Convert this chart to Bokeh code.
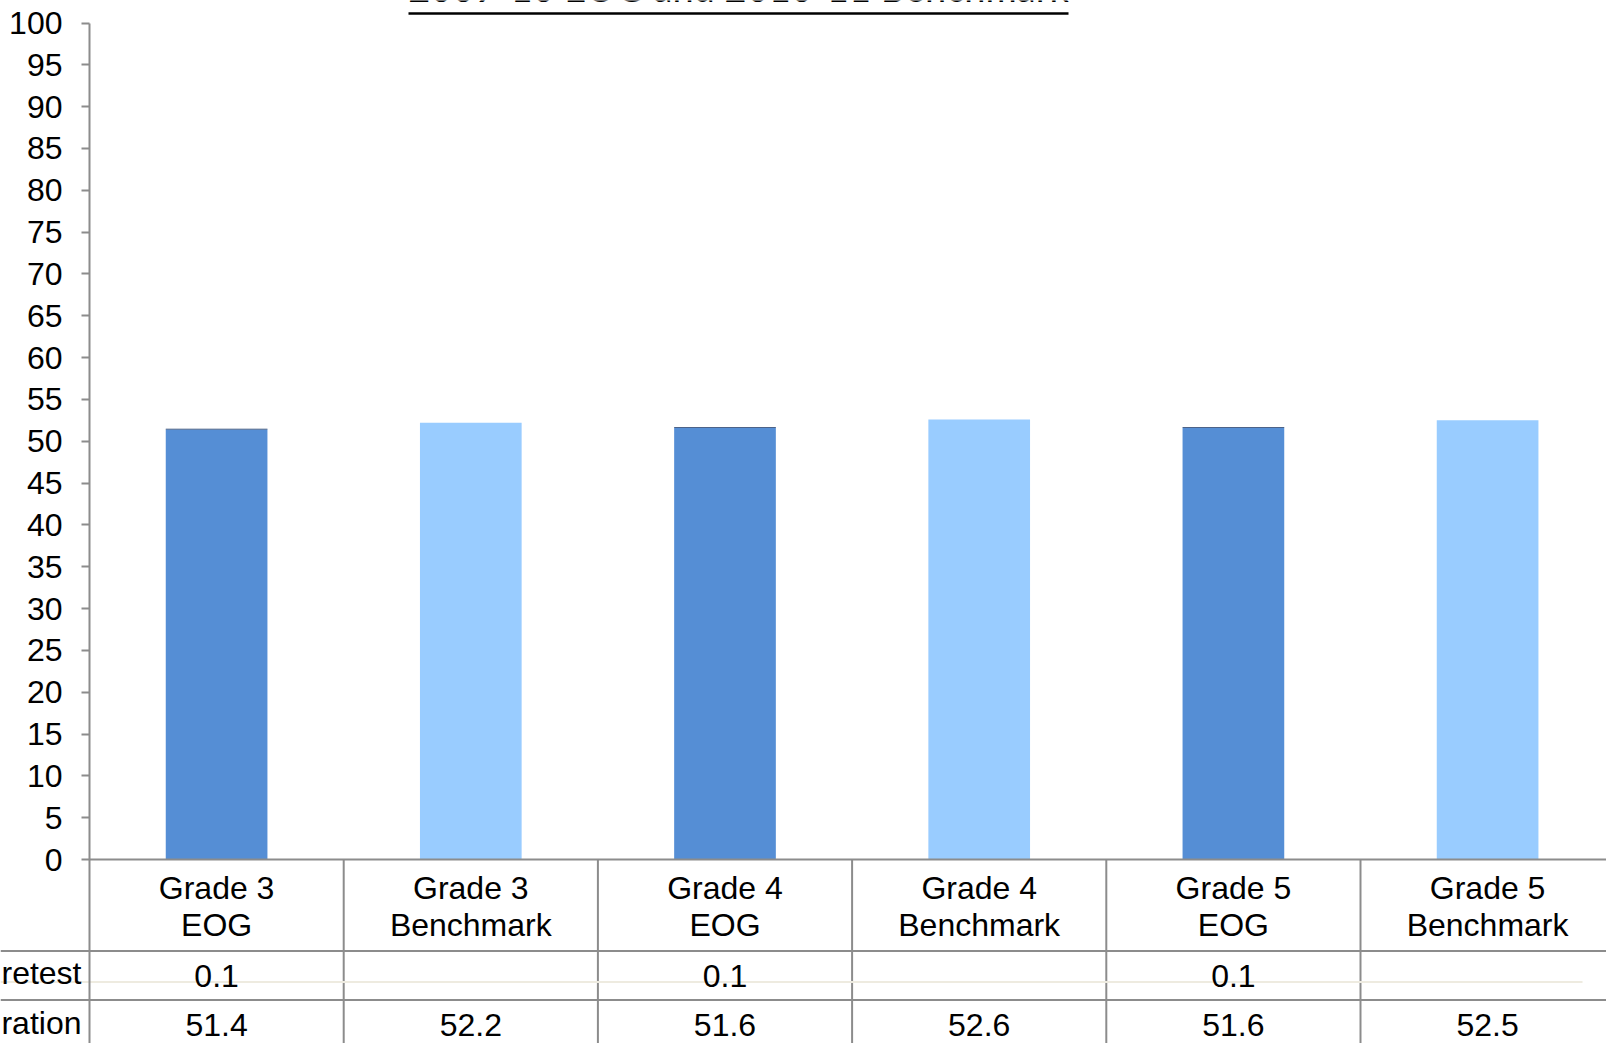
from bokeh.plotting import figure
from bokeh.models import Range1d, FixedTicker
from bokeh.core.properties import value
from bokeh.embed import file_html
from bokeh.resources import INLINE

# ---------------- data ----------------
categories = ["Grade 3\nEOG", "Grade 3\nBenchmark", "Grade 4\nEOG",
              "Grade 4\nBenchmark", "Grade 5\nEOG", "Grade 5\nBenchmark"]
row_labels = ["retest", "ration"]          # visible (cropped) row labels of the data table
pretest = [0.1, None, 0.1, None, 0.1, None]
administration = [51.4, 52.2, 51.6, 52.6, 51.6, 52.5]
y_ticks = list(range(0, 101, 5))
title_text = "2009-10 EOG and 2010-11 Benchmark"

# ---------------- styles ----------------
bar_colors = ["#558ED5", "#99CCFF", "#558ED5", "#99CCFF", "#558ED5", "#99CCFF"]
pretest_color = "#1F3864"
grid_gray = "#8C8C8C"
FONT = "Liberation Sans"
FS = "32px"

W, H = 1606, 1043
AXIS_X = 89.0
CAT_PX = 254.2
Y0_PX, Y100_PX = 859.0, 22.5
PPU = (Y0_PX - Y100_PX) / 100.0


def ycan(cy):
    return (Y0_PX - cy) / PPU


def xcan(cx):
    return (cx - AXIS_X) / CAT_PX


x_start, x_end = xcan(0), xcan(W)
y_start, y_end = ycan(H), ycan(0)

p = figure(width=W, height=H, output_backend="svg", toolbar_location=None,
           x_range=Range1d(x_start, x_end), y_range=Range1d(y_start, y_end),
           x_axis_location=None, min_border=0)
p.outline_line_color = None
p.xgrid.visible = False
p.ygrid.visible = False
p.background_fill_color = "white"
p.border_fill_color = "white"

ax = p.yaxis[0]
ax.fixed_location = 0
ax.ticker = FixedTicker(ticks=y_ticks)
ax.bounds = (y_start, 100)
ax.axis_line_color = grid_gray
ax.axis_line_width = 2
ax.major_tick_line_color = grid_gray
ax.major_tick_line_width = 2
ax.major_tick_out = 8
ax.major_tick_in = 0
ax.minor_tick_line_color = None
ax.major_label_text_font = FONT
ax.major_label_text_font_size = FS
ax.major_label_text_color = "black"
ax.major_label_standoff = 19

n = len(categories)
centers = [i + 0.5 for i in range(n)]

# bars
p.vbar(x=centers, top=administration, bottom=0, width=0.40,
       fill_color=bar_colors, line_color=None)
pt_x = [c for c, v in zip(centers, pretest) if v is not None]
pt_b = [a for a, v in zip(administration, pretest) if v is not None]
pt_t = [a + v for a, v in zip(administration, pretest) if v is not None]
p.vbar(x=pt_x, bottom=pt_b, top=pt_t, width=0.40, fill_color=pretest_color, line_color=None)

# data table lines
p.segment(x0=[0], y0=[0], x1=[x_end], y1=[0], line_color=grid_gray, line_width=2)
p.segment(x0=list(range(1, n)), y0=[0] * (n - 1), x1=list(range(1, n)), y1=[y_start] * (n - 1),
          line_color=grid_gray, line_width=2)
row_line_y = [ycan(950.5), ycan(999.6)]
p.segment(x0=[x_start] * 2, y0=row_line_y, x1=[x_end] * 2, y1=row_line_y,
          line_color=grid_gray, line_width=2)
p.segment(x0=[x_start], y0=[ycan(981.5)], x1=[xcan(1582)], y1=[ycan(981.5)],
          line_color="#EEEBE0", line_width=2)

# header text
line1 = [c.split("\n")[0] for c in categories]
line2 = [c.split("\n")[1] for c in categories]
for txt, cy in ((line1, 887), (line2, 924)):
    p.text(x=centers, y=[ycan(cy)] * n, text=txt, text_align="center", text_baseline="middle",
           text_font=value(FONT), text_font_size=FS, text_color="black")

# values rows
pt_txt = ["" if v is None else f"{v:.1f}" for v in pretest]
ad_txt = [f"{v:.1f}" for v in administration]
for txt, cy in ((pt_txt, 975), (ad_txt, 1024)):
    p.text(x=centers, y=[ycan(cy)] * n, text=txt, text_align="center", text_baseline="middle",
           text_font=value(FONT), text_font_size=FS, text_color="black")

# row labels
p.text(x=[xcan(81)] * 2, y=[ycan(972), ycan(1022)], text=row_labels, text_align="right",
       text_baseline="middle", text_font=value(FONT), text_font_size=FS, text_color="black")

# title (cropped at the top in the reference: only its lower edge and underline show)
p.text(x=[xcan(738)], y=[ycan(9)], text=[title_text], text_align="center",
       text_baseline="bottom", text_font=value("Lato"), text_font_size="38px",
       text_color="black")
p.segment(x0=[xcan(408)], y0=[ycan(13)], x1=[xcan(1068)], y1=[ycan(13)],
          line_color="black", line_width=2.5)

open("out.html", "w").write(file_html(p, INLINE))
